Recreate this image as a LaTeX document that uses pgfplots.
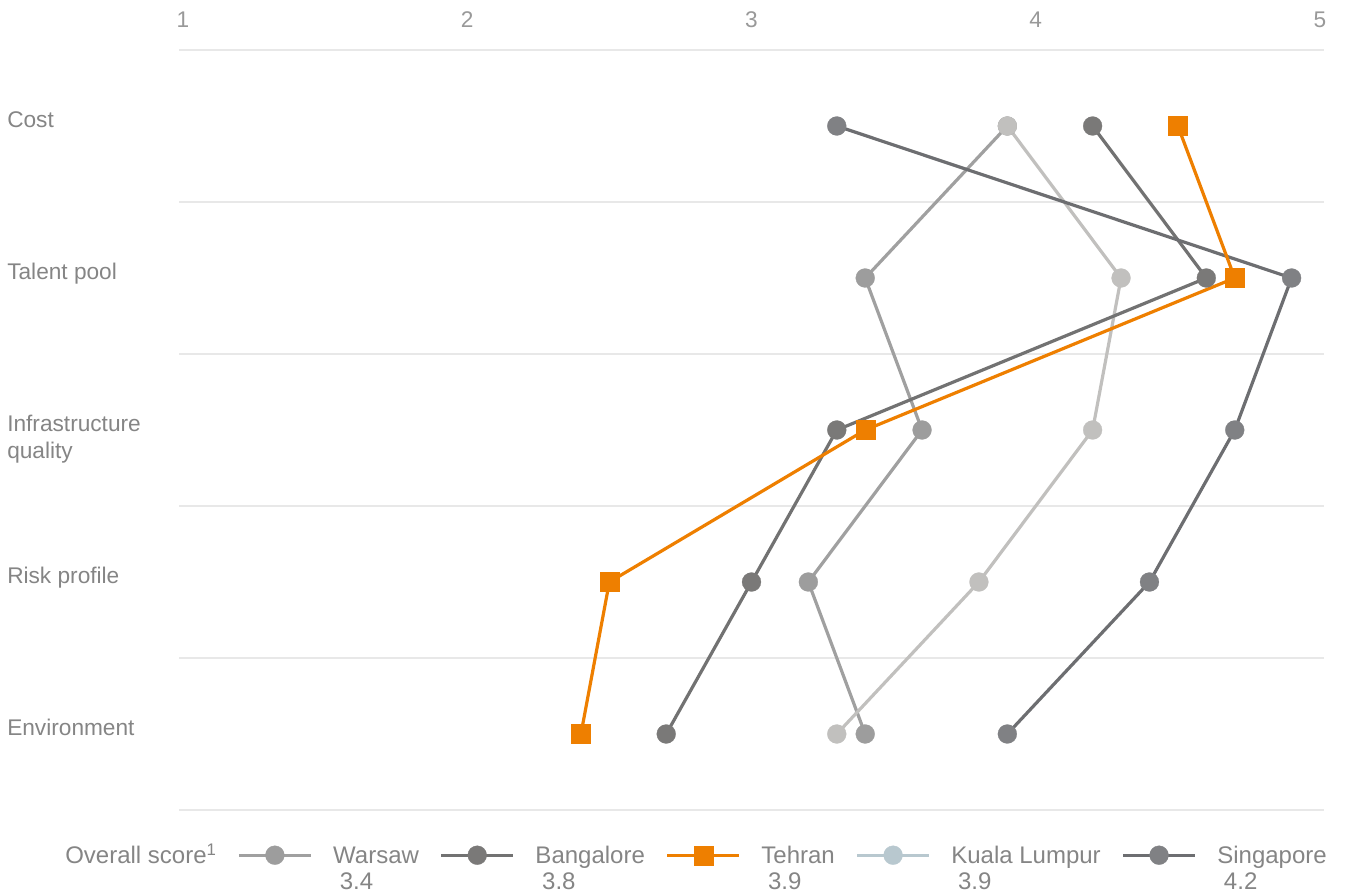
\documentclass[border=0pt]{standalone}
\usepackage{fontspec}
\setmainfont{Liberation Sans}
\usepackage{pgfplots}
\pgfplotsset{compat=1.18}
\definecolor{labgray}{HTML}{858585}
\definecolor{tickgray}{HTML}{999999}
\definecolor{gridc}{HTML}{E8E8E8}
\definecolor{warsawl}{HTML}{A0A0A0}
\definecolor{warsawm}{HTML}{9D9D9D}
\definecolor{bangl}{HTML}{727272}
\definecolor{bangm}{HTML}{7A7978}
\definecolor{tehran}{HTML}{EE7F00}
\definecolor{kll}{HTML}{C1C0BE}
\definecolor{kllegend}{HTML}{B8C8CF}
\definecolor{singl}{HTML}{6D6E71}
\definecolor{singm}{HTML}{808184}
\pgfplotsset{
  ser/.style n args={3}{color=#1, line width=2.4pt, mark=#3, mark size=7.1pt,
    mark options={solid, fill=#2, draw=#2, line width=0.2pt}},
}
\begin{document}
\begin{tikzpicture}
\path[use as bounding box] (0,0) rectangle (1009.5pt,669pt);
\begin{axis}[
  at={(134.25pt,61.5pt)}, anchor=south west,
  scale only axis, width=858.75pt, height=570pt,
  xmin=0.986, xmax=5.014, ymin=0.5, ymax=5.5, y dir=reverse,
  clip=false,
  axis line style={draw=none}, tick style={draw=none},
  xtick={1,2,3,4,5}, xticklabel pos=upper,
  /pgf/number format/assume math mode=true,
  xticklabel style={font=\fontsize{17}{20}\selectfont, text=tickgray, inner sep=0pt, yshift=16.5pt},
  ytick={1,2,3,4,5},
  yticklabels={Cost,Talent pool,{Infrastructure\\quality},Risk profile,Environment},
  yticklabel style={anchor=north west, align=left, inner sep=0pt, xshift=-129pt, yshift=11.25pt,
    font=\fontsize{17}{20.25}\selectfont, text=labgray},
  extra y ticks={0.5,1.5,2.5,3.5,4.5,5.5}, extra y tick labels={},
  extra y tick style={grid=major, major grid style={draw=gridc, line width=1.2pt}, tick style={draw=none}},
  legend image code/.code={\draw[mark repeat=2,mark phase=2,#1] plot coordinates {(0pt,0pt) (27pt,0pt) (54pt,0pt)};},
  legend columns=6,
  legend cell align=left,
  legend style={
    draw=none, fill=none,
    at={(0,0)}, anchor=north west, xshift=-104pt, yshift=-24.2pt,
    font=\fontsize{18}{21}\selectfont, text=labgray,
    nodes={inner sep=0pt, text height=14pt, text depth=1pt},
    /tikz/every even column/.append style={column sep=15.5pt},
    /tikz/every odd column/.append style={column sep=15.5pt},
    row sep=4pt,
  },
]
% Warsaw
\addplot[forget plot, ser={warsawl}{warsawm}{*}]
  coordinates {(3.9,1) (3.4,2) (3.6,3) (3.2,4) (3.4,5)};
% Kuala Lumpur
\addplot[forget plot, ser={kll}{kll}{*}]
  coordinates {(3.9,1) (4.3,2) (4.2,3) (3.8,4) (3.3,5)};
% Bangalore
\addplot[forget plot, ser={bangl}{bangm}{*}]
  coordinates {(4.2,1) (4.6,2) (3.3,3) (3.0,4) (2.7,5)};
% Singapore
\addplot[forget plot, ser={singl}{singm}{*}]
  coordinates {(3.3,1) (4.9,2) (4.7,3) (4.4,4) (3.9,5)};
% Tehran
\addplot[forget plot, ser={tehran}{tehran}{square*}]
  coordinates {(4.5,1) (4.7,2) (3.4,3) (2.5,4) (2.4,5)};

\addlegendimage{empty legend}
\addlegendimage{ser={warsawl}{warsawm}{*}}
\addlegendimage{ser={bangl}{bangm}{*}}
\addlegendimage{ser={tehran}{tehran}{square*}}
\addlegendimage{ser={kllegend}{kllegend}{*}}
\addlegendimage{ser={singl}{singm}{*}}
\addlegendimage{empty legend}
\addlegendimage{empty legend}
\addlegendimage{empty legend}
\addlegendimage{empty legend}
\addlegendimage{empty legend}
\addlegendimage{empty legend}
\legend{Overall score\textsuperscript{1},Warsaw,Bangalore,Tehran,Kuala Lumpur,Singapore,
  {\phantom{0}},\hspace*{5pt}3.4,\hspace*{5pt}3.8,\hspace*{5pt}3.9,\hspace*{5pt}3.9,\hspace*{5pt}4.2}
\end{axis}
\end{tikzpicture}
\end{document}
